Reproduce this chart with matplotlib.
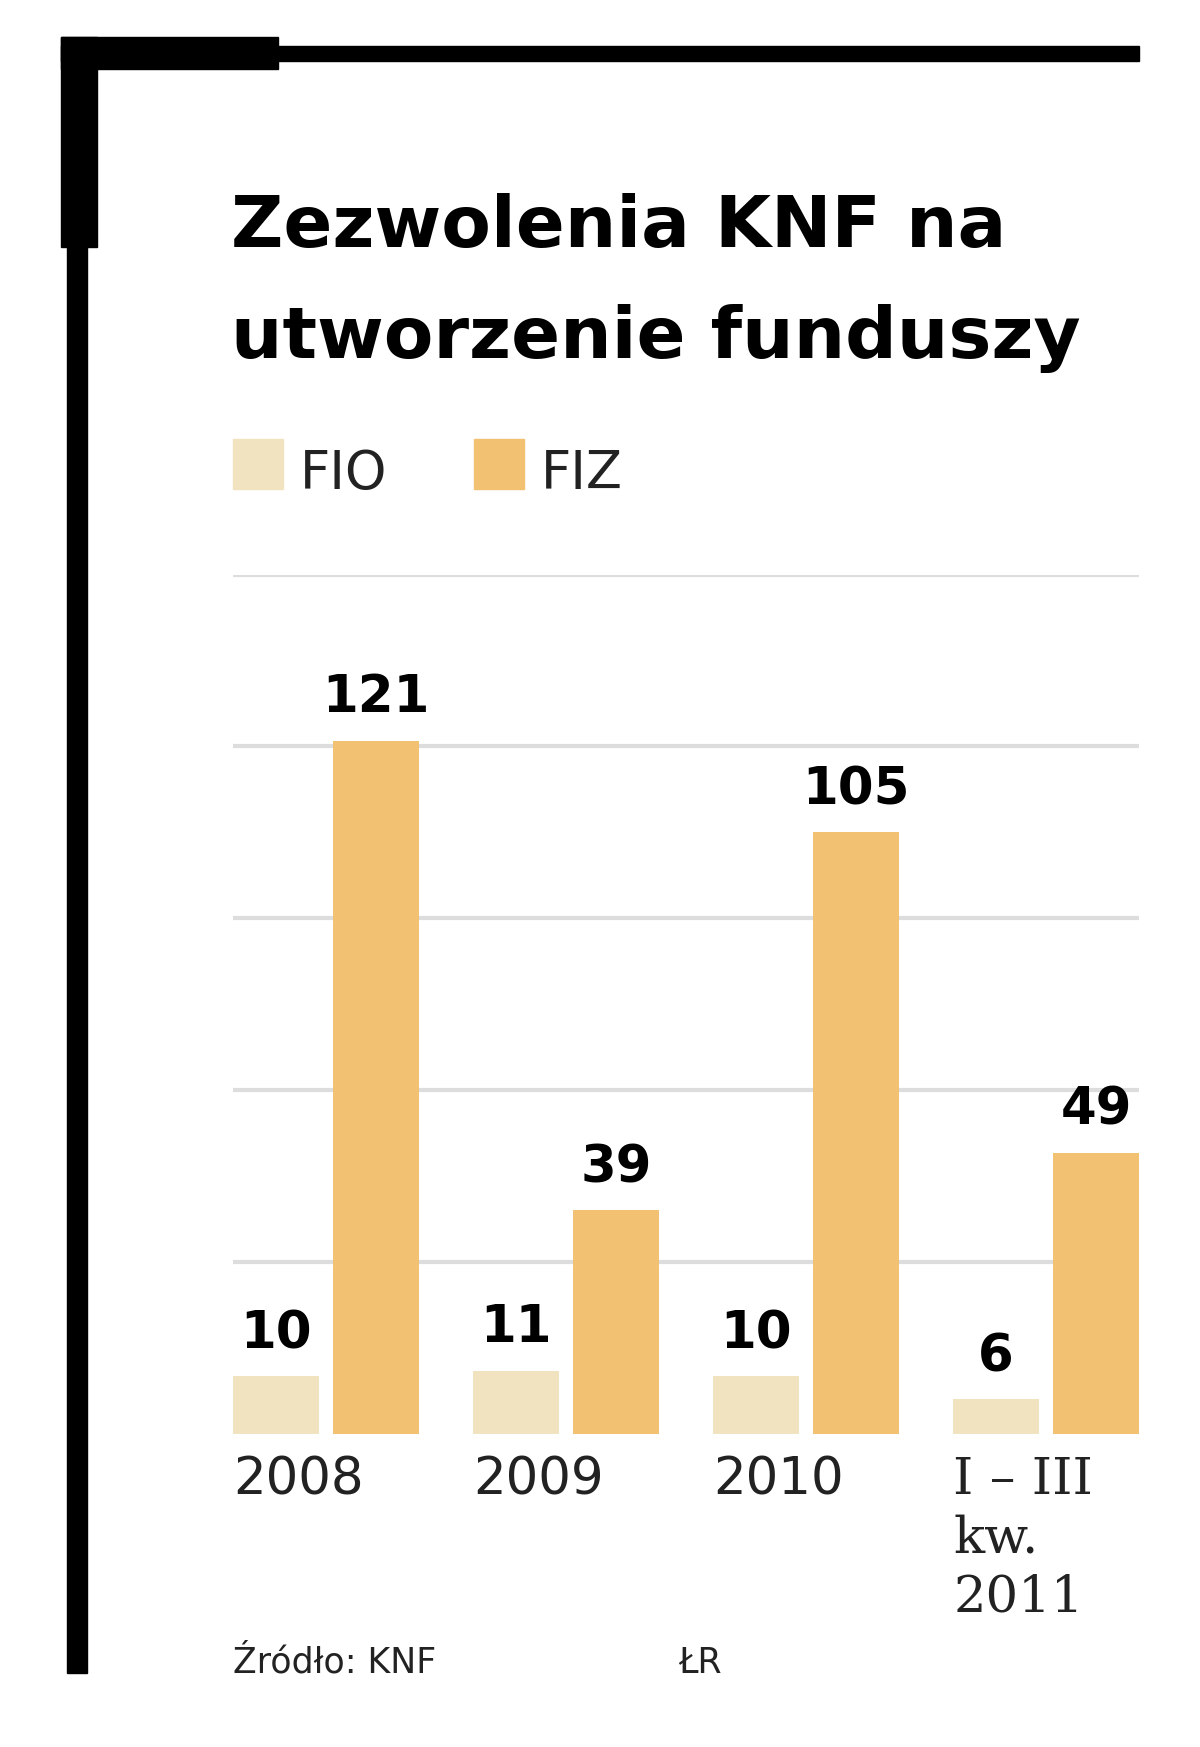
import matplotlib
matplotlib.use("Agg")
import matplotlib.pyplot as plt
from matplotlib.patches import Rectangle
import numpy as np

categories = ["2008", "2009", "2010", "I – III\nkw.\n2011"]
fio = [10, 11, 10, 6]
fiz = [121, 39, 105, 49]
C_FIO = "#f1e3c0"
C_FIZ = "#f2c172"

W, H = 1080, 1572
fig = plt.figure(figsize=(12, 17.47), dpi=100)
def fx(x): return x / W
def fy(y): return 1 - y / H

# frame
fig.add_artist(Rectangle((fx(60), fy(1505)), fx(18), 1505/H - 35/H, transform=fig.transFigure, color="black"))
fig.add_artist(Rectangle((fx(55), fy(222)), fx(32), (222-33)/H, transform=fig.transFigure, color="black"))
fig.add_artist(Rectangle((fx(55), fy(62)), fx(195), (62-33)/H, transform=fig.transFigure, color="black"))
fig.add_artist(Rectangle((fx(55), fy(55)), fx(970), 14/H, transform=fig.transFigure, color="black"))

fig.text(fx(208), fy(222), "Zezwolenia KNF na", fontsize=52, fontweight="bold", va="baseline", ha="left")
fig.text(fx(208), fy(322), "utworzenie funduszy", fontsize=52, fontweight="bold", va="baseline", ha="left")

# legend
fig.add_artist(Rectangle((fx(210), fy(440)), fx(45), 45/H, transform=fig.transFigure, color=C_FIO))
fig.text(fx(270), fy(440), "FIO", fontsize=38, va="baseline", color="#222222")
fig.add_artist(Rectangle((fx(427), fy(440)), fx(45), 45/H, transform=fig.transFigure, color=C_FIZ))
fig.text(fx(487), fy(440), "FIZ", fontsize=38, va="baseline", color="#222222")

ax = fig.add_axes([fx(210), fy(1290), fx(1025-210), (1290-517)/H])
x = np.arange(len(categories))
w = 0.356
off = 0.417
ax.bar(x, fio, width=w, color=C_FIO, zorder=2)
ax.bar(x + off, fiz, width=w, color=C_FIZ, zorder=2)
for i in range(len(x)):
    ax.text(x[i], fio[i] + 3, str(fio[i]), ha="center", va="bottom", fontsize=37, fontweight="bold")
    ax.text(x[i] + off, fiz[i] + 3, str(fiz[i]), ha="center", va="bottom", fontsize=37, fontweight="bold")
ax.set_xlim(-0.178, 3.595)
ax.set_ylim(0, 150)
ax.set_yticks([30, 60, 90, 120, 150])
ax.yaxis.grid(True, color="#dddddd", linewidth=3, zorder=0)
ax.tick_params(left=False, labelleft=False, bottom=False, labelbottom=False)
for s in ax.spines.values():
    s.set_visible(False)
for i, c in enumerate(categories):
    ax.text(x[i] - w/2, -0.025, c, transform=ax.get_xaxis_transform(), ha="left", va="top",
            fontsize=37, color="#222222", linespacing=1.25,
            family="DejaVu Serif" if i == 3 else "DejaVu Sans")

fig.text(fx(210), fy(1505), "Źródło: KNF", fontsize=25, va="baseline", color="#222222")
fig.text(fx(610), fy(1505), "ŁR", fontsize=25, va="baseline", color="#222222")

fig.savefig("out.png", dpi=100, facecolor="white")
